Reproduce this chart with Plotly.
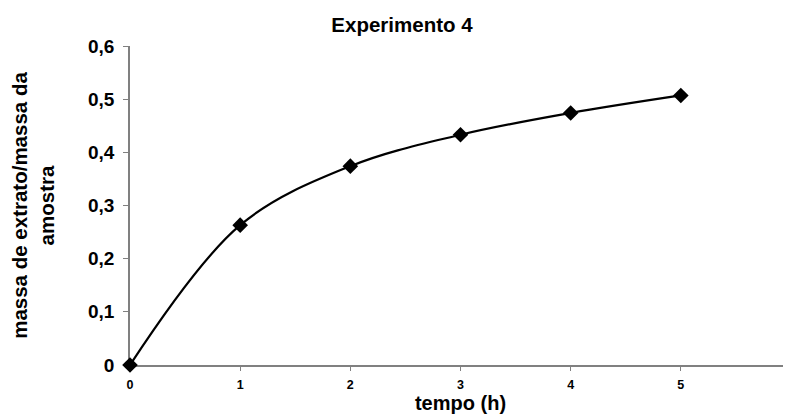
import plotly.graph_objects as go

# dados
tempo_h = [0, 1, 2, 3, 4, 5]
massa_relativa = [0.0, 0.263, 0.374, 0.433, 0.474, 0.507]

rotulos_y = ["0", "0,1", "0,2", "0,3", "0,4", "0,5", "0,6"]
valores_y = [0, 0.1, 0.2, 0.3, 0.4, 0.5, 0.6]
valores_x = [0, 1, 2, 3, 4, 5, 6]

FONTE = "Arial, Liberation Sans, sans-serif"

# a página tem margem de 8 px no corpo: a figura desconta isso
LARGURA, ALTURA = 783, 406

figura = go.Figure()
figura.add_scatter(
    x=tempo_h, y=massa_relativa, mode="lines+markers",
    line=dict(color="black", width=2.2, shape="spline", smoothing=1),
    marker=dict(symbol="diamond", size=12, color="black"),
    showlegend=False, cliponaxis=False,
)

figura.update_layout(
    width=LARGURA, height=ALTURA,
    margin=dict(l=122, r=0, t=38, b=49),
    plot_bgcolor="white", paper_bgcolor="white",
    font=dict(family=FONTE, color="black"),
    title=dict(text="<b>Experimento 4</b>", x=394 / LARGURA, xref="container",
               y=1 - 17 / ALTURA, yref="container", yanchor="middle", xanchor="center",
               font=dict(size=20.5, family=FONTE)),
)
figura.update_xaxes(
    range=[0, 6], tickvals=valores_x, ticktext=[f"<b>{v}</b>" for v in valores_x],
    showline=True, linecolor="#808080", linewidth=1.5, layer="below traces",
    ticks="outside", ticklen=4, tickcolor="#808080", ticklabelstandoff=3,
    showgrid=False, zeroline=False, tickfont=dict(size=12.5),
    automargin=False,
    title=dict(text="<b>tempo (h)</b>", font=dict(size=20), standoff=3),
)
figura.update_yaxes(
    range=[0, 0.6], tickvals=valores_y, ticktext=[f"<b>{t}</b>" for t in rotulos_y],
    showline=True, linecolor="#808080", linewidth=1.5, layer="below traces",
    ticks="outside", ticklen=5, tickcolor="#808080", ticklabelstandoff=5,
    showgrid=False, zeroline=False, tickfont=dict(size=19),
    automargin=False,
    title=dict(text="<b>massa de extrato/massa da<br>amostra</b>",
               font=dict(size=20.5), standoff=38),
)

figura.write_html("out.html")
